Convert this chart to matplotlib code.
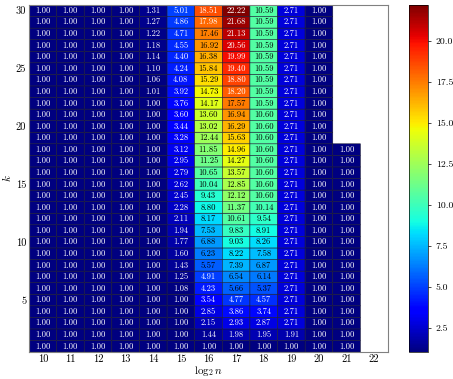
import numpy as np
import matplotlib
matplotlib.use("Agg")
import matplotlib.pyplot as plt

plt.rcParams['font.family'] = ['cmr10', 'DejaVu Serif']
plt.rcParams['mathtext.fontset'] = 'cm'
plt.rcParams['axes.formatter.use_mathtext'] = True

# columns: log2 n ; rows: k = 1..30 (values listed from k=1 upwards)
log2n = [10, 11, 12, 13, 14, 15, 16, 17, 18, 19, 20, 21, 22]
ks = list(range(1, 31))
nan = np.nan

col10 = [1.00, 1.00, 1.00, 1.00, 1.00, 1.00, 1.00, 1.00, 1.00, 1.00,
         1.00, 1.00, 1.00, 1.00, 1.00, 1.00, 1.00, 1.00, 1.00, 1.00,
         1.00, 1.00, 1.00, 1.00, 1.00, 1.00, 1.00, 1.00, 1.00, 1.00]
col11 = list(col10)
col12 = list(col10)
col13 = list(col10)
col14 = [1.00, 1.00, 1.00, 1.00, 1.00, 1.00, 1.00, 1.00, 1.00, 1.00,
         1.00, 1.00, 1.00, 1.00, 1.00, 1.00, 1.00, 1.00, 1.00, 1.00,
         1.00, 1.00, 1.01, 1.06, 1.10, 1.14, 1.18, 1.22, 1.27, 1.31]
col15 = [1.00, 1.00, 1.00, 1.00, 1.00, 1.08, 1.25, 1.43, 1.60, 1.77,
         1.94, 2.11, 2.28, 2.45, 2.62, 2.79, 2.95, 3.12, 3.28, 3.44,
         3.60, 3.76, 3.92, 4.08, 4.24, 4.40, 4.55, 4.71, 4.86, 5.01]
col16 = [1.00, 1.44, 2.15, 2.85, 3.54, 4.23, 4.91, 5.57, 6.23, 6.88,
         7.53, 8.17, 8.80, 9.43, 10.04, 10.65, 11.25, 11.85, 12.44, 13.02,
         13.60, 14.17, 14.73, 15.29, 15.84, 16.38, 16.92, 17.46, 17.98, 18.51]
col17 = [1.00, 1.98, 2.93, 3.86, 4.77, 5.66, 6.54, 7.39, 8.22, 9.03,
         9.83, 10.61, 11.37, 12.12, 12.85, 13.57, 14.27, 14.96, 15.63, 16.29,
         16.94, 17.57, 18.20, 18.80, 19.40, 19.99, 20.56, 21.13, 21.68, 22.22]
col18 = [1.00, 1.95, 2.87, 3.74, 4.57, 5.37, 6.14, 6.87, 7.58, 8.26,
         8.91, 9.54, 10.14, 10.60, 10.60, 10.60, 10.60, 10.60, 10.60, 10.60,
         10.60, 10.59, 10.59, 10.59, 10.59, 10.59, 10.59, 10.59, 10.59, 10.59]
col19 = [1.00, 1.91, 2.71, 2.71, 2.71, 2.71, 2.71, 2.71, 2.71, 2.71,
         2.71, 2.71, 2.71, 2.71, 2.71, 2.71, 2.71, 2.71, 2.71, 2.71,
         2.71, 2.71, 2.71, 2.71, 2.71, 2.71, 2.71, 2.71, 2.71, 2.71]
col20 = list(col10)
col21 = [1.00, 1.00, 1.00, 1.00, 1.00, 1.00, 1.00, 1.00, 1.00, 1.00,
         1.00, 1.00, 1.00, 1.00, 1.00, 1.00, 1.00, 1.00, nan, nan,
         nan, nan, nan, nan, nan, nan, nan, nan, nan, nan]
col22 = [nan] * 30

data = np.array([col10, col11, col12, col13, col14, col15, col16, col17,
                 col18, col19, col20, col21, col22]).T
masked = np.ma.masked_invalid(data)
vmin, vmax = np.nanmin(data), np.nanmax(data)

fig = plt.figure(figsize=(4.53, 3.79), dpi=100)
ax = fig.add_axes([0.064, 0.071, 0.7925, 0.916])
cax = fig.add_axes([0.903, 0.071, 0.042, 0.916])

xe = np.arange(len(log2n) + 1) - 0.5
ye = np.arange(len(ks) + 1) - 0.5
mesh = ax.pcolor(xe, ye, masked, cmap='jet', vmin=vmin, vmax=vmax,
                 edgecolors='#1a1a33', linewidth=0.4)

for i in range(len(ks)):
    for j in range(len(log2n)):
        v = data[i, j]
        if np.isnan(v):
            continue
        t = (v - vmin) / (vmax - vmin)
        c = 'white' if (t < 0.2 or t > 0.8) else 'black'
        ax.text(j, i, f'{v:.2f}', ha='center', va='center', fontsize=6.2, color=c)

ax.set_xlim(-0.5, len(log2n) - 0.5)
ax.set_ylim(-0.5, len(ks) - 0.5)
ax.set_xticks(range(len(log2n)))
ax.set_xticklabels([str(x) for x in log2n])
yt = [5, 10, 15, 20, 25, 30]
ax.set_yticks([ks.index(k) for k in yt])
ax.set_yticklabels([str(k) for k in yt])
ax.tick_params(length=0, labelsize=7.5, pad=2)
ax.set_xlabel(r'$\log_2 n$', fontsize=8, labelpad=0)
ax.set_ylabel(r'$k$', fontsize=8, labelpad=2)
for s in ax.spines.values():
    s.set_color('0.5')
    s.set_linewidth(0.8)

cb = fig.colorbar(mesh, cax=cax)
cb.set_ticks([2.5, 5.0, 7.5, 10.0, 12.5, 15.0, 17.5, 20.0])
cb.set_ticklabels(['2.5', '5.0', '7.5', '10.0', '12.5', '15.0', '17.5', '20.0'])
cb.ax.tick_params(labelsize=7, length=2, width=0.5)
cb.outline.set_linewidth(0.5)

fig.savefig('out.png', dpi=100)
